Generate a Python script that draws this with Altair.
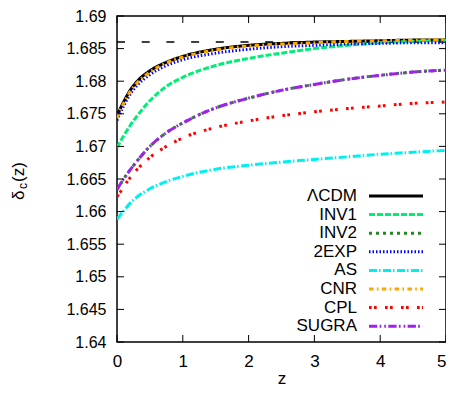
import altair as alt
import pandas as pd

FONT = "Liberation Sans"

# ---- data ----
z = [0, 0.05, 0.1, 0.2, 0.3, 0.5, 0.75, 1, 1.5, 2, 2.5, 3, 3.5, 4, 4.5, 5]

lcdm  = [1.6746, 1.6758, 1.6768, 1.6786, 1.6799, 1.6816, 1.6829, 1.6838, 1.6849, 1.6855, 1.6858, 1.6860, 1.6861, 1.6862, 1.6863, 1.6863]
inv1  = [1.6698, 1.6707, 1.6716, 1.6732, 1.6746, 1.6770, 1.6792, 1.6806, 1.6824, 1.6835, 1.6843, 1.6850, 1.6855, 1.6859, 1.6861, 1.6863]
inv2  = [1.6634, 1.6642, 1.6650, 1.6664, 1.6677, 1.6700, 1.6721, 1.6736, 1.6759, 1.6774, 1.6786, 1.6795, 1.6803, 1.6809, 1.6814, 1.6817]
exp2  = [1.6740, 1.6752, 1.6762, 1.6780, 1.6793, 1.6810, 1.6824, 1.6833, 1.6843, 1.6849, 1.6853, 1.6855, 1.6857, 1.6858, 1.6859, 1.6859]
as_   = [1.6588, 1.6595, 1.6601, 1.6613, 1.6622, 1.6635, 1.6646, 1.6654, 1.6665, 1.6671, 1.6676, 1.6680, 1.6684, 1.6688, 1.6691, 1.6694]
cnr   = [1.6744, 1.6756, 1.6766, 1.6784, 1.6797, 1.6814, 1.6828, 1.6837, 1.6848, 1.6854, 1.6857, 1.6859, 1.6861, 1.6862, 1.6863, 1.6864]
cpl   = [1.6623, 1.6630, 1.6638, 1.6652, 1.6664, 1.6683, 1.6700, 1.6713, 1.6729, 1.6739, 1.6747, 1.6753, 1.6758, 1.6762, 1.6766, 1.6768]
sugra = [1.6634, 1.6642, 1.6650, 1.6664, 1.6677, 1.6700, 1.6721, 1.6736, 1.6759, 1.6774, 1.6786, 1.6795, 1.6803, 1.6809, 1.6814, 1.6817]

names = ["ΛCDM", "INV1", "INV2", "2EXP", "AS", "CNR", "CPL", "SUGRA"]
series = [lcdm, inv1, inv2, exp2, as_, cnr, cpl, sugra]
colors = ["#000000", "#00ee76", "#228b22", "#0000ff", "#00f0f0", "#ffa500", "#ff0000", "#a020f0"]
dashes = [[1, 0], [6, 2], [3, 4], [1.5, 2], [8, 2, 1.5, 2.5], [4.5, 3.3, 1.7, 3.3],
          [2.7, 2.3, 2.7, 8.3], [8.3, 2.3, 1.7, 3, 1.7, 2.3]]

ref_level = [1.686]
x_ticks = [0, 1, 2, 3, 4, 5]
y_ticks = [1.64, 1.645, 1.65, 1.655, 1.66, 1.665, 1.67, 1.675, 1.68, 1.685, 1.69]
ytitle_parts = ["δ", "c", "(z)"]

# ---- layout ----
W, H = 329, 326
TICK = 7
FS = 17

xscale = alt.Scale(domain=[0, 5], nice=False, zero=False)
yscale = alt.Scale(domain=[1.64, 1.69], nice=False, zero=False)
xaxis = alt.Axis(values=x_ticks, format="d", title="z", ticks=False, tickSize=0, domain=False,
                 grid=False, labelPadding=11, labelFlush=False, labelOverlap=False,
                 labelAlign={"condition": {"test": "datum.value == 5", "value": "right"}, "value": "center"},
                 titlePadding=1, labelFontSize=FS, titleFontSize=FS)
yaxis = alt.Axis(values=y_ticks, format="~g", title=None, ticks=False, tickSize=0, domain=False,
                 grid=False, labelPadding=11, labelFlush=False, labelOverlap=False,
                 labelFontSize=16)

def X(f):
    return alt.X(f, type="quantitative", scale=xscale, axis=xaxis)

def Y(f):
    return alt.Y(f, type="quantitative", scale=yscale, axis=yaxis)

color_scale = alt.Scale(domain=names, range=colors)
dash_scale = alt.Scale(domain=names, range=dashes)

layers = []

# reference horizontal dashed line
ref_df = pd.DataFrame({"zz": [0, 5], "d": ref_level * 2})
layers.append(alt.Chart(ref_df).mark_line(color="black", strokeWidth=1.5, strokeDash=[8, 16.7])
              .encode(x=X("zz"), y=Y("d")))

for n, s in zip(names, series):
    df = pd.DataFrame({"z": z, "delta": s, "model": n})
    layers.append(alt.Chart(df).mark_line(strokeWidth=3, interpolate="monotone", clip=True)
                  .encode(x=X("z"), y=Y("delta"),
                          color=alt.Color("model:N", scale=color_scale, legend=None),
                          strokeDash=alt.StrokeDash("model:N", scale=dash_scale, legend=None)))

# inward ticks on all four sides
ydf = pd.DataFrame({"v": y_ticks})
xdf = pd.DataFrame({"v": x_ticks})
layers.append(alt.Chart(ydf).mark_rule(color="black", strokeWidth=1)
              .encode(y=Y("v"), x=alt.value(0), x2=alt.value(TICK)))
layers.append(alt.Chart(ydf).mark_rule(color="black", strokeWidth=1)
              .encode(y=Y("v"), x=alt.value(W - TICK), x2=alt.value(W)))
layers.append(alt.Chart(xdf).mark_rule(color="black", strokeWidth=1)
              .encode(x=X("v"), y=alt.value(H), y2=alt.value(H - TICK)))
layers.append(alt.Chart(xdf).mark_rule(color="black", strokeWidth=1)
              .encode(x=X("v"), y=alt.value(0), y2=alt.value(TICK)))

# gnuplot-style key (labels left of samples), inside bottom-right
leg_df = pd.DataFrame({"model": names, "rank": list(range(len(names)))})
leg_base = alt.Chart(leg_df).transform_calculate(py="180 + datum.rank * 18.6")
layers.append(leg_base.mark_text(align="right", baseline="middle", font=FONT, fontSize=FS, color="black")
              .encode(text="model:N", x=alt.value(240), y=alt.Y("py:Q", scale=None)))
layers.append(leg_base.mark_rule(strokeWidth=3)
              .encode(x=alt.value(252), x2=alt.value(306), y=alt.Y("py:Q", scale=None),
                      color=alt.Color("model:N", scale=color_scale, legend=None),
                      strokeDash=alt.StrokeDash("model:N", scale=dash_scale, legend=None)))

# y-axis title δ_c(z) built from pieces (subscript c)
tdf = pd.DataFrame({"t": ytitle_parts})
layers.append(alt.Chart(tdf).transform_filter("datum.t == 'δ'")
              .mark_text(angle=270, align="left", baseline="alphabetic", font=FONT, fontSize=FS, color="black")
              .encode(text="t:N", x=alt.value(-93), y=alt.value(184)))
layers.append(alt.Chart(tdf).transform_filter("datum.t == 'c'")
              .mark_text(angle=270, align="left", baseline="alphabetic", font=FONT, fontSize=12, color="black")
              .encode(text="t:N", x=alt.value(-90), y=alt.value(173)))
layers.append(alt.Chart(tdf).transform_filter("datum.t == '(z)'")
              .mark_text(angle=270, align="left", baseline="alphabetic", font=FONT, fontSize=FS, color="black")
              .encode(text="t:N", x=alt.value(-93), y=alt.value(166)))

chart = (alt.layer(*layers)
         .properties(width=W, height=H,
                     autosize=alt.AutoSizeParams(type="none"),
                     padding={"left": 109, "top": 8, "right": 0, "bottom": 47})
         .configure_view(stroke="black", strokeWidth=1.5)
         .configure_axis(labelFont=FONT, titleFont=FONT, labelColor="black", titleColor="black",
                         titleFontWeight="normal"))

chart.save("out.html", embed_options={"renderer": "svg", "actions": False})
